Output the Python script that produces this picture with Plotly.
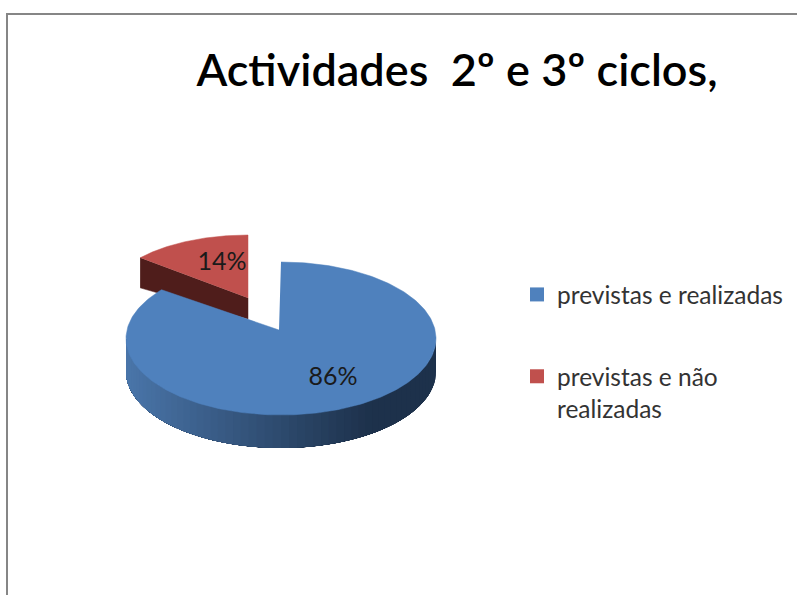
import numpy as np
import plotly.graph_objects as go

# Data
categories = ["previstas e realizadas", "previstas e não<br>realizadas"]
values = [86, 14]
labels = ["86%", "14%"]
title_text = "Actividades  2º e 3º ciclos,"

colors = ["#4f81bd", "#c0504d"]
red_wall = "#4f1d1b"
FONT = "Lato, 'Open Sans', sans-serif"
W, H = 797, 595

fractions = np.array(values, dtype=float) / sum(values)
ends = np.cumsum(fractions) * 2 * np.pi
starts = ends - fractions * 2 * np.pi


def arc(cx, cy, rx, ry, a0, a1, n=120):
    t = np.linspace(a0, a1, n)
    return cx + rx * np.sin(t), cy - ry * np.cos(t)


def blend(c0, c1, f):
    return "rgb(%d,%d,%d)" % tuple(round(a + (b - a) * f) for a, b in zip(c0, c1))


fig = go.Figure()


def poly(x, y, color, width=0.5):
    fig.add_trace(go.Scatter(x=list(x), y=list(y), mode="lines", fill="toself",
                             fillcolor=color, line=dict(color=color, width=width),
                             showlegend=False, hoverinfo="skip"))


# Detached red slice: inner wall then top
rcx, rcy, rrx, rry = 248, 298, 140, 63
rx_arc, ry_arc = arc(rcx, rcy, rrx, rry, starts[1], ends[1])
poly([rx_arc[0], rcx, rcx, rx_arc[0]],
     [ry_arc[0], rcy, rcy + 21, ry_arc[0] + 30], red_wall)
poly(list(rx_arc) + [rcx], list(ry_arc) + [rcy], colors[1])

# Blue slice: shaded rim, overlapping strips painted right to left
cx, cy, a, b, depth = 281, 338.5, 155, 76.5, 33
left_col, right_col = (74, 118, 170), (29, 49, 75)
edges = np.linspace(np.pi / 2, 3 * np.pi / 2, 61)
for t0 in edges[:-1]:
    xs, ys = arc(cx, cy, a, b, t0, 3 * np.pi / 2, n=60)
    f = min(1.0, ((cx + a * np.sin(t0)) - (cx - a)) / (2 * a) / 0.8)
    poly(list(xs) + list(xs[::-1]), list(ys) + list(ys[::-1] + depth),
         blend(left_col, right_col, f), width=0)

# Blue slice: top face
bx, by = arc(cx, cy, a, b, starts[0], ends[0], n=300)
poly(list(bx) + [279], list(by) + [330], colors[0])

# Percent labels
fig.add_trace(go.Scatter(x=[333, 222], y=[379, 264], mode="text", text=labels,
                         textposition="middle center",
                         textfont=dict(family=FONT, size=25, color="#1a1a1a"),
                         showlegend=False, hoverinfo="skip"))

# Legend entries
for i, (name, col) in enumerate(zip(categories, colors)):
    fig.add_trace(go.Scatter(x=[None], y=[None], mode="markers", name=name,
                             legendgroup=str(i),
                             marker=dict(symbol="square", size=14, color=col)))

fig.update_layout(
    width=W, height=H, margin=dict(l=0, r=0, t=0, b=0),
    paper_bgcolor="white", plot_bgcolor="white",
    xaxis=dict(range=[0, W], visible=False, fixedrange=True),
    yaxis=dict(range=[H, 0], visible=False, fixedrange=True),
    title=dict(text=title_text, x=457 / W, xanchor="center", y=1 - 70 / H, yanchor="middle",
               font=dict(family=FONT, size=45, color="#000000", weight=600)),
    legend=dict(x=517 / W, xanchor="left", y=1 - 272 / H, yanchor="top",
                traceorder="grouped", tracegroupgap=47, itemwidth=30, valign="top",
                bgcolor="rgba(0,0,0,0)",
                font=dict(family=FONT, size=24.5, color="#333333")),
    shapes=[dict(type="path", xref="paper", yref="paper",
                 path=f"M {7/W} 0 L {7/W} {1-14/H} L 1 {1-14/H}",
                 line=dict(color="#868686", width=2))],
)
fig.write_html("out.html", config={"displayModeBar": False},
               post_script="document.body.style.margin='0';")
